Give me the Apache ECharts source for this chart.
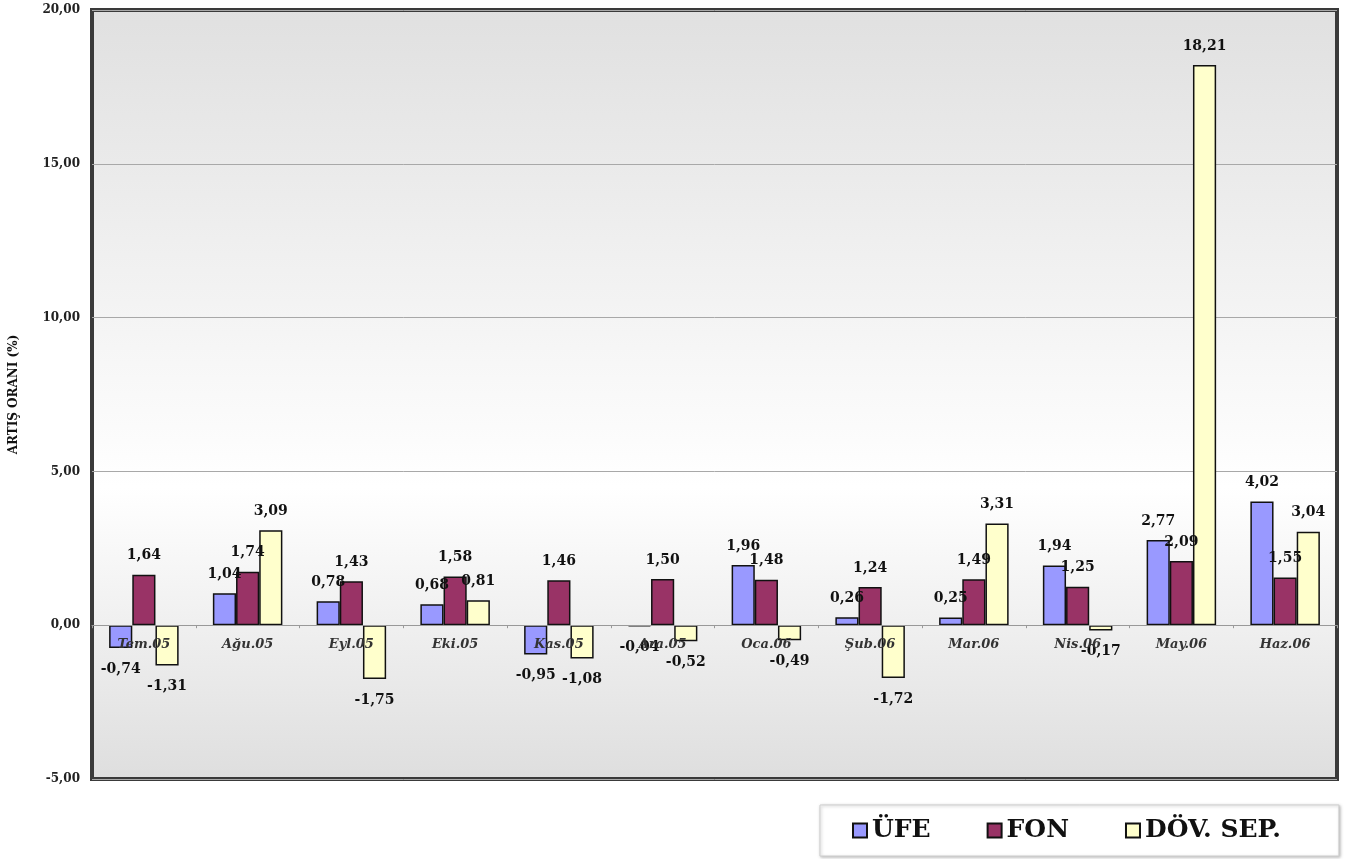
<!DOCTYPE html>
<html>
<head>
<meta charset="utf-8">
<script src="https://cdn.jsdelivr.net/npm/echarts@6/dist/echarts.min.js"></script>
<style>
html,body{margin:0;padding:0;background:#fff;}
#c{width:1361px;height:859px;}
</style>
</head>
<body>
<div id="c"></div>
<script>
const categories = ['Tem.05','Ağu.05','Eyl.05','Eki.05','Kas.05','Ara.05','Oca.06','Şub.06','Mar.06','Nis.06','May.06','Haz.06'];
const ufe = [-0.74, 1.04, 0.78, 0.68, -0.95, -0.04, 1.96, 0.26, 0.25, 1.94, 2.77, 4.02];
const fon = [1.64, 1.74, 1.43, 1.58, 1.46, 1.50, 1.48, 1.24, 1.49, 1.25, 2.09, 1.55];
const dov = [-1.31, 3.09, -1.75, 0.81, -1.08, -0.52, -0.49, -1.72, 3.31, -0.17, 18.21, 3.04];
const seriesNames = ['ÜFE','FON','DÖV. SEP.'];
const colors = ['#9999ff','#993366','#ffffcc'];
const yMin = -5, yMax = 20, yStep = 5;

const fmt = v => v.toFixed(2).replace('.', ',');
const serif = '"DejaVu Serif", "Liberation Serif", serif';

function mk(name, data, color) {
  return {
    name: name,
    type: 'bar',
    barGap: '0%',
    barCategoryGap: '33%',
    itemStyle: { color: color, borderColor: '#111', borderWidth: 1.5 },
    data: data.map(v => ({
      value: v,
      label: {
        show: true,
        position: v >= 0 ? 'top' : 'bottom',
        distance: v >= 0 ? 12 : 14,
        formatter: p => fmt(p.value),
        fontFamily: serif, fontWeight: 'bold', fontSize: 14, color: '#111'
      }
    }))
  };
}

const chart = echarts.init(document.getElementById('c'));
chart.setOption({
  animation: false,
  backgroundColor: '#ffffff',
  grid: {
    left: 92, right: 24, top: 10, bottom: 80,
    show: true,
    borderColor: '#3a3a3a', borderWidth: 4,
    backgroundColor: new echarts.graphic.LinearGradient(0, 0, 0, 1, [
      { offset: 0, color: '#e0e0e0' },
      { offset: 0.62, color: '#ffffff' },
      { offset: 1, color: '#dedede' }
    ])
  },
  legend: {
    left: 820, top: 805,
    padding: [13, 58, 13, 32],
    itemGap: 56,
    itemWidth: 14, itemHeight: 14,
    icon: 'rect',
    backgroundColor: '#ffffff',
    borderColor: '#cfcfcf', borderWidth: 1,
    shadowColor: 'rgba(0,0,0,0.25)', shadowBlur: 3, shadowOffsetX: 1, shadowOffsetY: 1,
    textStyle: { fontFamily: serif, fontWeight: 'bold', fontSize: 25, color: '#111' },
    data: seriesNames
  },
  xAxis: {
    type: 'category',
    data: categories,
    z: 10,
    axisLine: { show: true, onZero: true, lineStyle: { color: '#999', width: 1 } },
    axisTick: { show: true, length: 3, lineStyle: { color: '#999' } },
    axisLabel: {
      margin: 13,
      fontFamily: serif, fontStyle: 'italic', fontWeight: 'bold', fontSize: 13, color: '#333'
    }
  },
  yAxis: {
    type: 'value',
    min: yMin, max: yMax, interval: yStep,
    name: 'ARTIŞ ORANI (%)',
    nameLocation: 'middle',
    nameGap: 72,
    nameRotate: 90,
    nameTextStyle: { fontFamily: serif, fontWeight: 'bold', fontSize: 12, color: '#111' },
    axisLine: { show: false },
    axisTick: { show: false },
    axisLabel: {
      margin: 12,
      formatter: v => fmt(v),
      fontFamily: serif, fontWeight: 'bold', fontSize: 12, color: '#222'
    },
    splitLine: { lineStyle: { color: '#a8a8a8', width: 1 } }
  },
  series: [
    mk(seriesNames[0], ufe, colors[0]),
    mk(seriesNames[1], fon, colors[1]),
    mk(seriesNames[2], dov, colors[2])
  ]
});
// place the category axis on the zero line using the library's own scale
const yZero = chart.convertToPixel({ yAxisIndex: 0 }, 0);
const yBottom = chart.convertToPixel({ yAxisIndex: 0 }, yMin);
chart.setOption({ xAxis: { offset: yZero - yBottom } });
</script>
</body>
</html>
